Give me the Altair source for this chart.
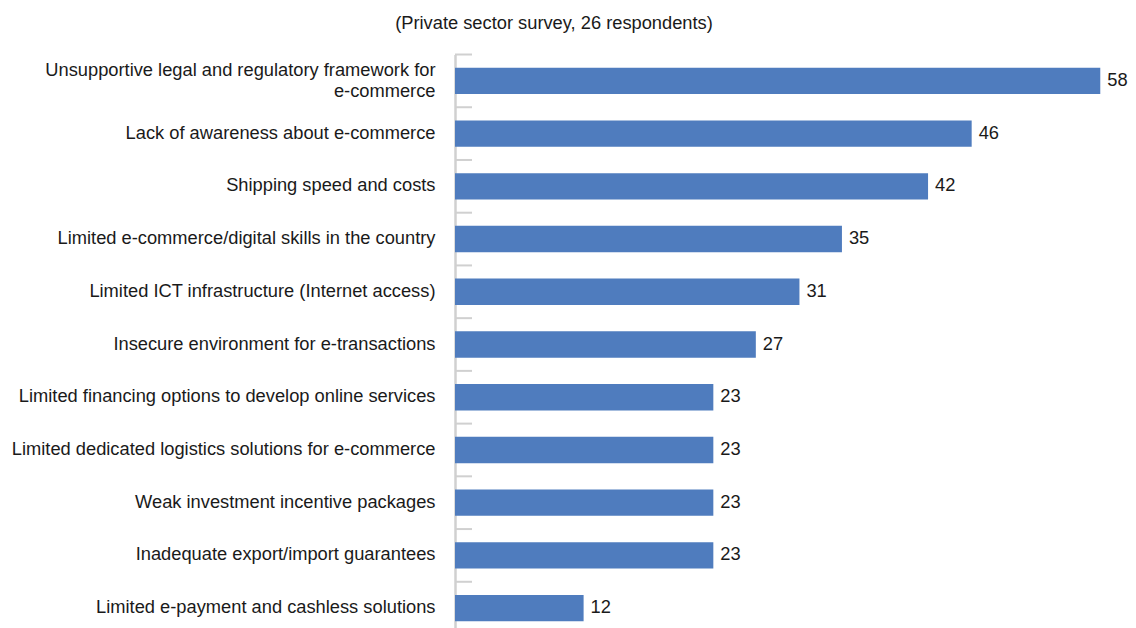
import altair as alt
import pandas as pd

categories = [
    "Unsupportive legal and regulatory framework for\ne-commerce",
    "Lack of awareness about  e-commerce",
    "Shipping speed and costs",
    "Limited e-commerce/digital skills in the country",
    "Limited ICT infrastructure (Internet access)",
    "Insecure environment for e-transactions",
    "Limited financing options to develop online services",
    "Limited dedicated logistics solutions for e-commerce",
    "Weak investment incentive packages",
    "Inadequate export/import guarantees",
    "Limited e-payment and cashless solutions",
]
values = [57.7, 46.2, 42.3, 34.6, 30.8, 26.9, 23.1, 23.1, 23.1, 23.1, 11.5]
title_text = ["(Private sector survey, 26 respondents)"]

df = pd.DataFrame({"cat": categories, "val": values})
df_title = pd.DataFrame({"t": title_text})

FONT = "Liberation Sans, Arial, sans-serif"
FS = 18.3
BAR = "#4F7CBE"
GRID = "#D0D0D0"
TXT = "#1a1a1a"

y_enc = alt.Y(
    "cat:N",
    sort=None,
    title=None,
    scale=alt.Scale(paddingInner=0.5, paddingOuter=0.25),
    axis=alt.Axis(
        ticks=False,
        tickSize=0,
        domainColor=GRID,
        domainWidth=2.5,
        labelPadding=20,
        labelFont=FONT,
        labelFontSize=FS,
        labelColor=TXT,
        labelLimit=0,
        labelLineHeight=21,
        labelExpr="split(datum.label, '\\n')",
        labelOffset={
            "condition": {"test": "indexof(datum.label, '\\n') >= 0", "value": -9.5},
            "value": 0,
        },
    ),
)

x_enc = alt.X("val:Q", scale=alt.Scale(domain=[0, 60]), axis=None)

base = alt.Chart(df)

bars = base.mark_bar(color=BAR).encode(y=y_enc, x=x_enc)

texts = base.mark_text(
    align="left", baseline="middle", dx=7, font=FONT, fontSize=FS, color=TXT
).encode(y=y_enc, x=x_enc, text=alt.Text("val:Q", format=".0f"))

ticks = base.mark_rule(color=GRID, strokeWidth=2, yOffset=-26.35).encode(
    y=y_enc, x=alt.value(0), x2=alt.value(17)
)

title = alt.Chart(df_title).mark_text(
    align="center", baseline="alphabetic", font=FONT, fontSize=FS, color=TXT
).encode(text="t:N", x=alt.value(99), y=alt.value(-25.5))

chart = (
    alt.layer(ticks, bars, texts, title)
    .properties(
        width=671,
        height=580,
        autosize=alt.AutoSizeParams(type="none"),
        padding={"left": 447, "top": 46.5, "right": 2, "bottom": 0},
    )
    .configure_view(stroke=None)
)

chart.save("out.html", embed_options={"renderer": "svg", "actions": False})
